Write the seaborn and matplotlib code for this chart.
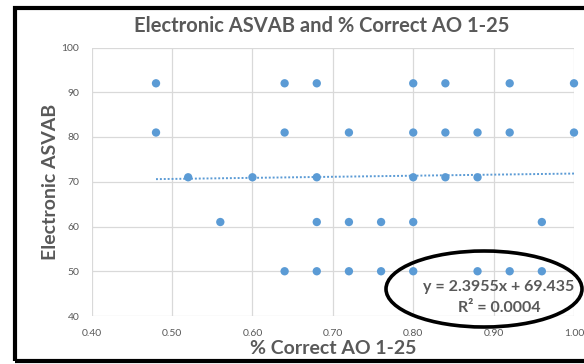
import matplotlib
matplotlib.use("Agg")
import matplotlib.pyplot as plt
from matplotlib.patches import Ellipse, Rectangle
import seaborn as sns
import pandas as pd
import numpy as np

# Electronic ASVAB score bands and the AO 1-25 fractions correct seen at each band
score_92 = [0.48, 0.64, 0.68, 0.80, 0.84, 0.92, 1.00]
score_81 = [0.48, 0.64, 0.72, 0.80, 0.84, 0.88, 0.92, 1.00]
score_71 = [0.52, 0.60, 0.68, 0.80, 0.84, 0.88]
score_61 = [0.56, 0.68, 0.72, 0.76, 0.80, 0.96]
score_50 = [0.64, 0.68, 0.72, 0.76, 0.80, 0.88, 0.92, 0.96]

# Linear trendline coefficients
slope = 2.3955
intercept = 69.435
r_squared = 0.0004

x_ticks = [0.40, 0.50, 0.60, 0.70, 0.80, 0.90, 1.00]
y_ticks = [40, 50, 60, 70, 80, 90, 100]

rows = []
for score, pcts in [(92, score_92), (81, score_81), (71, score_71),
                    (61, score_61), (50, score_50)]:
    for p in pcts:
        rows.append({"pct": p, "asvab": score})
df = pd.DataFrame(rows)

trend_x = np.array([df["pct"].min(), df["pct"].max()])
trend = pd.DataFrame({"pct": trend_x, "asvab": slope * trend_x + intercept})

sns.set_theme(style="white")
plt.rcParams["font.family"] = ["Lato", "DejaVu Sans"]

W, H = 584, 364
fig = plt.figure(figsize=(W / 100, H / 100), dpi=100)
ax = fig.add_axes([91.7 / W, 1 - 316 / H, (574 - 91.7) / W, (316 - 47.5) / H])

blue = "#5B9BD5"
text_gray = "#595959"
grid_gray = "#D9D9D9"

sns.lineplot(data=trend, x="pct", y="asvab", ax=ax, color=blue,
             linestyle=(0, (1, 1)), linewidth=1.4, zorder=2)
sns.scatterplot(data=df, x="pct", y="asvab", ax=ax, color=blue,
                s=36, edgecolor="none", zorder=3, clip_on=False)

ax.set_xlim(0.40, 1.00)
ax.set_ylim(40, 100)
ax.set_xticks(x_ticks)
ax.set_xticklabels([f"{v:.2f}" for v in x_ticks])
ax.set_yticks(y_ticks)
ax.set_yticklabels([str(v) for v in y_ticks])
ax.grid(True, color=grid_gray, linewidth=0.9)
for s in ax.spines.values():
    s.set_visible(False)
ax.tick_params(axis="both", length=0, labelsize=7.5, labelcolor=text_gray)
ax.tick_params(axis="x", pad=9)
ax.tick_params(axis="y", pad=9)

ax.set_xlabel("% Correct AO 1-25", fontsize=14, fontweight="bold",
              color=text_gray, labelpad=2)
ax.set_ylabel("Electronic ASVAB", fontsize=14, fontweight="bold",
              color=text_gray, labelpad=2)
fig.text(322 / W, 1 - 26 / H, "Electronic ASVAB and % Correct AO 1-25",
         ha="center", va="center", fontsize=14.5, fontweight="bold",
         color=text_gray)

# Trendline equation and its highlight ring
fig.text(499 / W, 1 - 287 / H, f"y = {slope}x + {intercept}",
         ha="center", va="center", fontsize=11.5, fontweight="bold",
         color=text_gray)
fig.text(499 / W, 1 - 308 / H, f"R² = {r_squared}",
         ha="center", va="center", fontsize=11.5, fontweight="bold",
         color=text_gray)
fig.patches.append(Ellipse((484 / W, 1 - 289 / H), 196 / W, 76 / H,
                           transform=fig.transFigure, fill=False,
                           edgecolor="black", linewidth=2.6))

# Outer frame (open on the right edge)
fig.patches.append(Rectangle((15 / W, 1 - 360.5 / H), 600 / W, 353 / H,
                             transform=fig.transFigure, fill=False,
                             edgecolor="black", linewidth=3))

fig.savefig("out.png", dpi=100)
